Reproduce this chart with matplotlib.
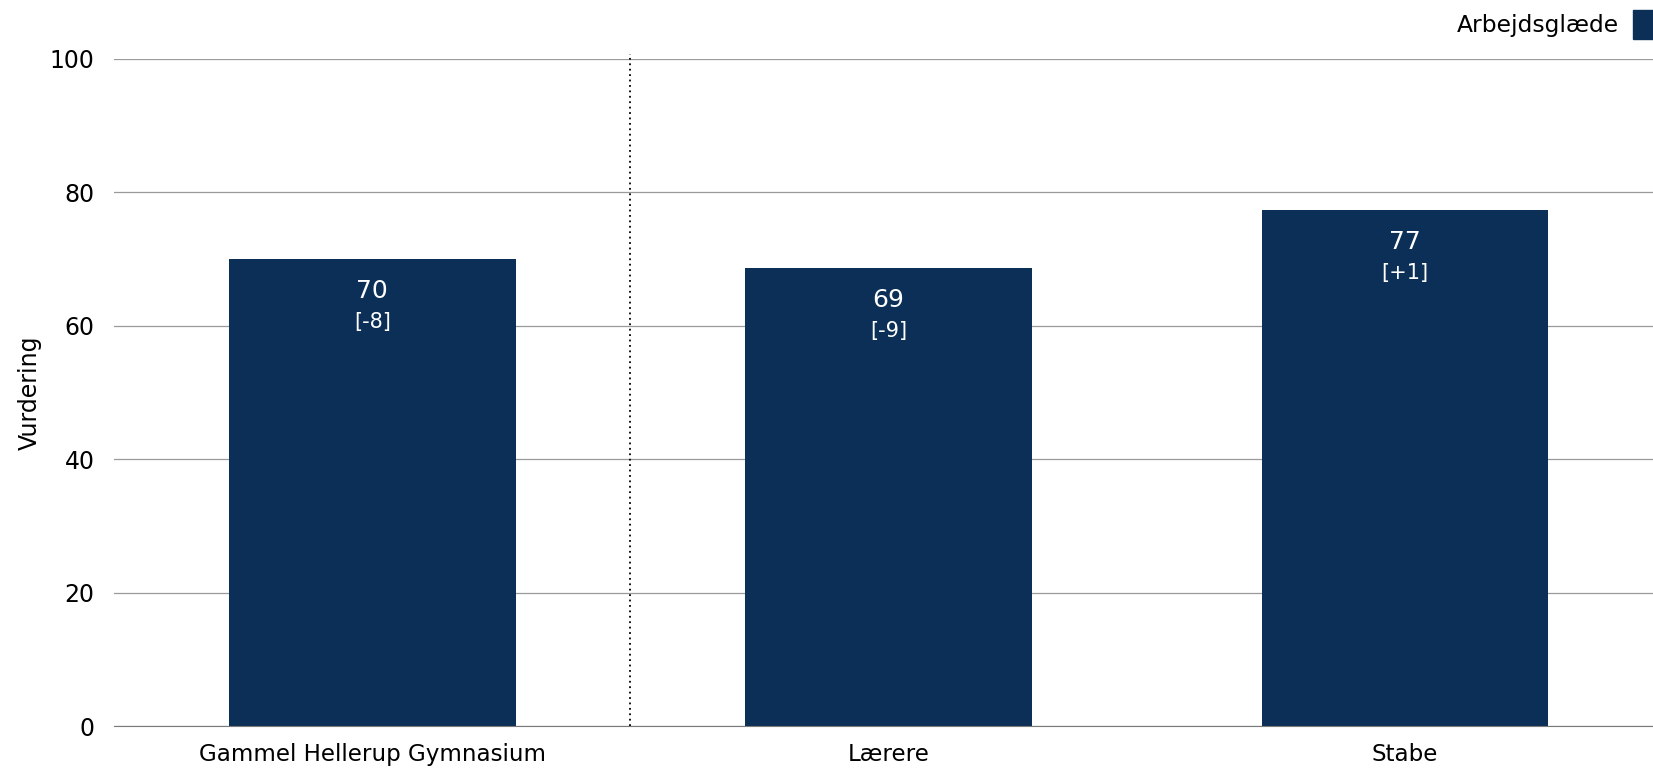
import numpy as np
import matplotlib.pyplot as plt
from matplotlib.patches import Patch

categories = ["Gammel Hellerup Gymnasium", "Lærere", "Stabe"]
values = [70.0, 68.7, 77.4]
labels = ["70", "69", "77"]
changes = ["[-8]", "[-9]", "[+1]"]
series = "Arbejdsglæde"
color = "#0b2f56"

plt.rcParams['font.family'] = ['DejaVu Sans']

fig = plt.figure(figsize=(16.53, 7.69), dpi=100)
ax = fig.add_axes([114 / 1653, 1 - 726 / 769, 1 - 114 / 1653, (726 - 59) / 769])

x = np.arange(len(categories))
bars = ax.bar(x, values, width=0.555, color=color, zorder=2)

for b, lab, ch in zip(bars, labels, changes):
    cx = b.get_x() + b.get_width() / 2
    top = b.get_height()
    ax.annotate(lab, (cx, top), xytext=(0, -32), textcoords="offset pixels",
                ha="center", va="center", color="white", fontsize=18)
    ax.annotate(ch, (cx, top), xytext=(0, -63), textcoords="offset pixels",
                ha="center", va="center", color="white", fontsize=15)

# dotted divider between total and groups
ax.plot([0.5, 0.5], [0, 100.8], linestyle=(0, (1, 2)), color="black", lw=1.3,
        clip_on=False, zorder=3)

ax.set_xlim(-0.5, 2.48)
ax.set_ylim(0, 100)
ax.set_yticks([0, 20, 40, 60, 80, 100])
ax.yaxis.grid(True, color="#9a9a9a", lw=0.9, zorder=0)
ax.set_axisbelow(True)
ax.set_xticks(x)
ax.set_xticklabels(categories, fontsize=16.6)
ax.tick_params(axis="y", labelsize=17, length=0, pad=14)
ax.tick_params(axis="x", length=0, pad=12)
for s in ["top", "right", "left"]:
    ax.spines[s].set_visible(False)
ax.spines["bottom"].set_color("#7a7a7a")
ax.set_ylabel("Vurdering", fontsize=17, labelpad=6)

fig.legend(handles=[Patch(color=color)], labels=[series], loc="upper right",
           bbox_to_anchor=(1.0, 0.987), frameon=False, fontsize=16.8,
           markerfirst=False, handlelength=0.85, handleheight=1.55,
           handletextpad=0.6, borderaxespad=0.0, borderpad=0.0)

fig.savefig("out.png", dpi=100)
